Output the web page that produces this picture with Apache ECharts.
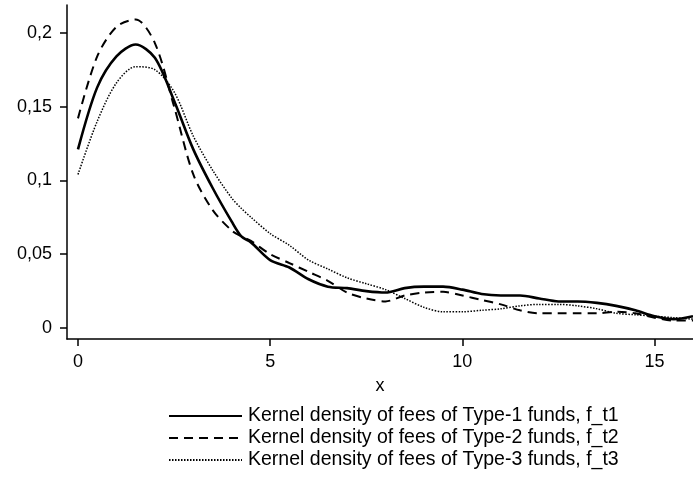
<!DOCTYPE html>
<html>
<head>
<meta charset="utf-8">
<script src="https://cdn.jsdelivr.net/npm/echarts@6/dist/echarts.min.js"></script>
<style>
  html, body { margin: 0; padding: 0; background: #fff; }
  #main { width: 693px; height: 481px; }
</style>
</head>
<body>
<div id="main"></div>
<script>
// x grid shared by the three density curves
var xs = [0, 0.5, 1, 1.5, 2, 2.5, 3, 3.5, 4, 4.25, 4.5, 5, 5.5, 6, 6.5, 7, 7.5, 8,
          8.5, 9, 9.5, 10, 10.5, 11, 11.5, 12, 12.5, 13, 13.5, 14, 14.5, 15, 15.5, 16];
var type1 = [0.121, 0.163, 0.184, 0.192, 0.183, 0.154, 0.121, 0.095, 0.072, 0.062, 0.058, 0.046,
             0.041, 0.033, 0.028, 0.027, 0.025, 0.024, 0.027, 0.028, 0.028, 0.026, 0.023, 0.022,
             0.022, 0.020, 0.018, 0.018, 0.017, 0.015, 0.012, 0.008, 0.006, 0.008];
var type2 = [0.142, 0.184, 0.204, 0.209, 0.193, 0.150, 0.104, 0.080, 0.066, 0.062, 0.059, 0.050,
             0.044, 0.038, 0.032, 0.024, 0.020, 0.018, 0.022, 0.024, 0.0245, 0.022, 0.019, 0.016,
             0.012, 0.010, 0.010, 0.010, 0.010, 0.011, 0.010, 0.007, 0.005, 0.005];
var type3 = [0.104, 0.140, 0.166, 0.177, 0.175, 0.160, 0.130, 0.107, 0.088, 0.081, 0.075, 0.064,
             0.056, 0.046, 0.040, 0.034, 0.030, 0.026, 0.020, 0.014, 0.011, 0.011, 0.012, 0.013,
             0.015, 0.016, 0.016, 0.015, 0.013, 0.010, 0.009, 0.008, 0.007, 0.006];
var seriesNames = [
  'Kernel density of fees of Type-1 funds, f_t1',
  'Kernel density of fees of Type-2 funds, f_t2',
  'Kernel density of fees of Type-3 funds, f_t3'
];
var xTicks = [0, 5, 10, 15];
var yTicks = [0, 0.05, 0.1, 0.15, 0.2];

function pairs(ys) {
  return xs.map(function (x, i) { return [x, ys[i]]; });
}

var font = 'Liberation Sans, Arial, sans-serif';

var option = {
  animation: false,
  textStyle: { fontFamily: font },
  grid: { left: 67, right: 0, top: 5, bottom: 142 },
  legend: {
    orient: 'vertical',
    left: 163,
    top: 401,
    itemWidth: 73,
    itemHeight: 10,
    itemGap: 2,
    itemStyle: { opacity: 0 },
    textStyle: { fontFamily: font, fontSize: 19.5, color: '#000', padding: [0, 0, 0, 1] },
    data: seriesNames
  },
  xAxis: {
    type: 'value',
    min: -0.286,
    max: 16,
    name: 'x',
    nameLocation: 'middle',
    nameGap: 38,
    nameTextStyle: { fontFamily: font, fontSize: 18, color: '#000' },
    splitLine: { show: false },
    axisLine: { show: true, onZero: false, lineStyle: { color: '#000', width: 1.5 } },
    axisTick: { show: true, length: 7, customValues: xTicks, lineStyle: { color: '#000', width: 1.5 } },
    axisLabel: { customValues: xTicks, margin: 14, fontSize: 18, color: '#000', fontFamily: font }
  },
  yAxis: {
    type: 'value',
    min: -0.00745,
    max: 0.2188,
    splitLine: { show: false },
    axisLine: { show: true, onZero: false, lineStyle: { color: '#000', width: 1.5 } },
    axisTick: { show: true, length: 7, customValues: yTicks, lineStyle: { color: '#000', width: 1.5 } },
    axisLabel: {
      customValues: yTicks, margin: 15, fontSize: 18, color: '#000', fontFamily: font,
      formatter: function (v) { return String(v).replace('.', ','); }
    }
  },
  series: [
    {
      name: seriesNames[0], type: 'line', data: pairs(type1), smooth: 0.3,
      symbol: 'none', itemStyle: { color: '#000' },
      lineStyle: { color: '#000', width: 2.6, type: 'solid' }
    },
    {
      name: seriesNames[1], type: 'line', data: pairs(type2), smooth: 0.3,
      symbol: 'none', itemStyle: { color: '#000' },
      lineStyle: { color: '#000', width: 2, type: [9, 6] }
    },
    {
      name: seriesNames[2], type: 'line', data: pairs(type3), smooth: 0.3,
      symbol: 'none', itemStyle: { color: '#000' },
      lineStyle: { color: '#000', width: 1.5, type: [1.5, 1.5] }
    }
  ]
};

var chart = echarts.init(document.getElementById('main'));
chart.setOption(option);
</script>
</body>
</html>
